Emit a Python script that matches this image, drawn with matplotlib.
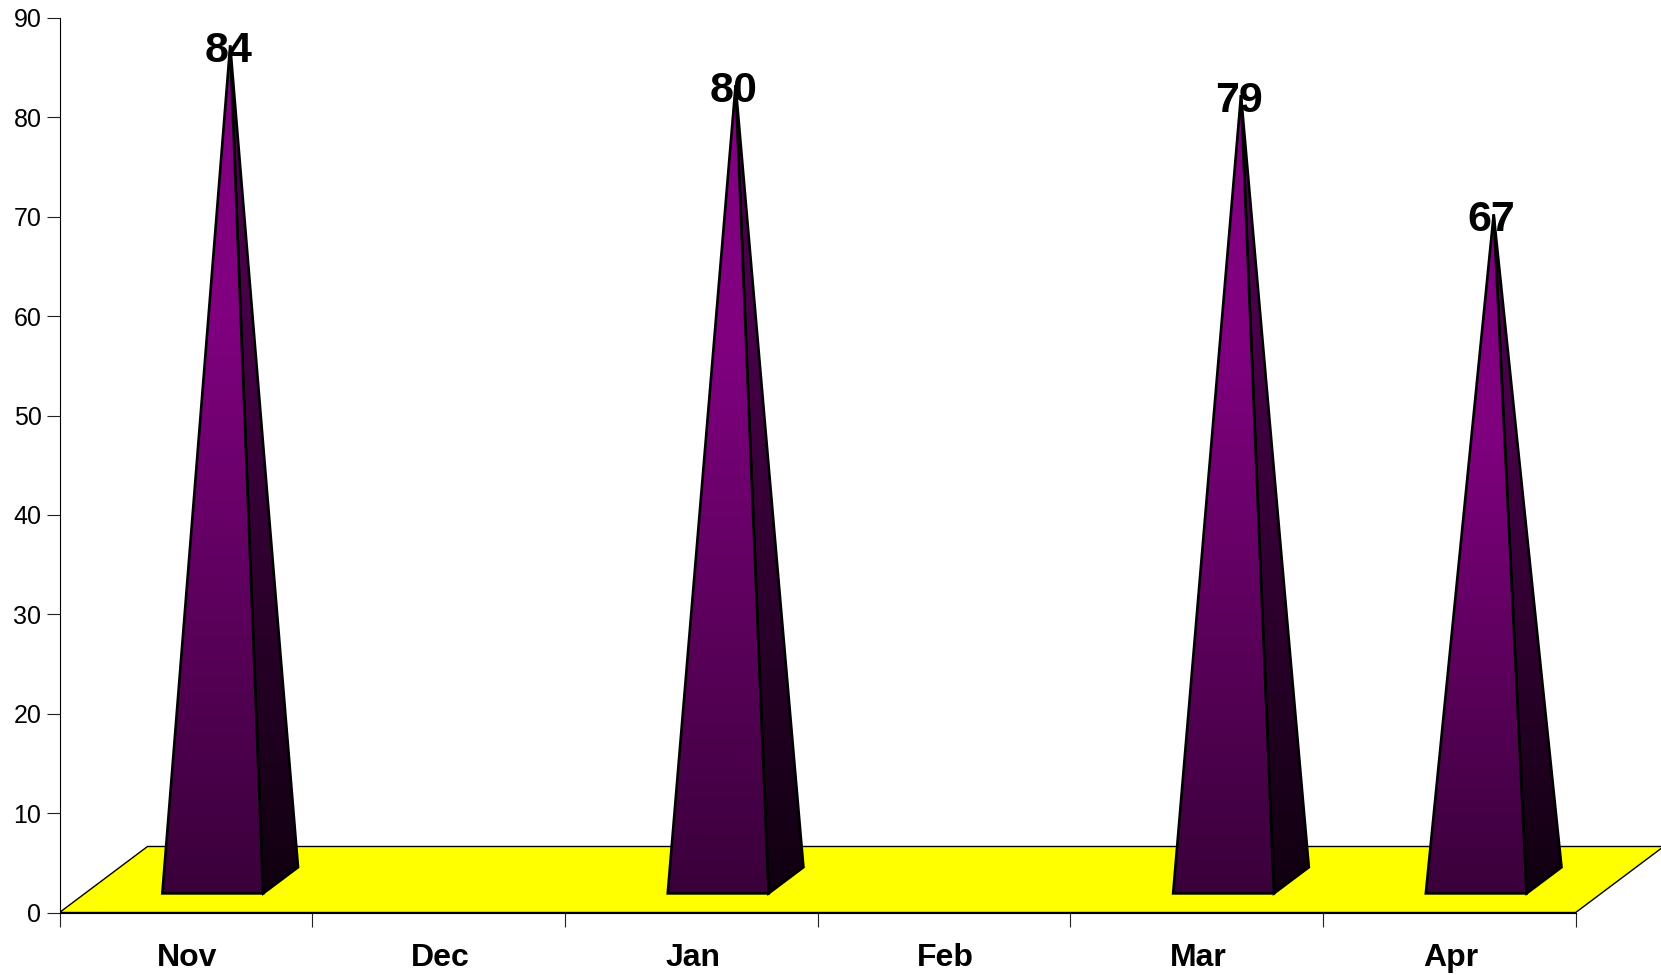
import numpy as np
import matplotlib
matplotlib.use("Agg")
import matplotlib.pyplot as plt
from matplotlib.colors import LinearSegmentedColormap
from matplotlib.patches import Polygon

plt.rcParams["font.family"] = ["Liberation Sans", "DejaVu Sans"]

months = ["Nov", "Dec", "Jan", "Feb", "Mar", "Apr"]
positions = [0, 2, 4, 5]
values = [84, 80, 79, 67]
y_ticks = [0, 10, 20, 30, 40, 50, 60, 70, 80, 90]

W, H = 1661, 975
left, right, bottom, top = 59.5, 1661, 912.5, 18
cat_px = (1575.7 - left) / 6
unit_px = (bottom - top) / 90

# oblique depth of the floor, in data units
depth_x = 88 / cat_px
depth_y = 66 / unit_px


def project(x, d, z=0):
    return x + d * depth_x, z + d * depth_y


fig = plt.figure(figsize=(W / 100, H / 100), dpi=100)
ax = fig.add_axes([left / W, 1 - bottom / H, (right - left) / W, (bottom - top) / H])

front_cmap = LinearSegmentedColormap.from_list("front", [(0, "#3a003a"), (0.68, "#800080"), (1, "#800080")])
side_cmap = LinearSegmentedColormap.from_list("side", [(0, "#100010"), (0.7, "#480048"), (1, "#480048")])
ramp = np.linspace(0, 1, 256).reshape(-1, 1)

# floor
floor = Polygon([project(0, 0), project(6, 0), project(6, 1), project(0, 1)],
                closed=True, fc="#ffff00", ec="black", lw=1, zorder=1)
ax.add_patch(floor)

# pyramids
for pos, val in zip(positions, values):
    xl, xr = pos + 0.306, pos + 0.705
    d0, d1 = 0.29, 0.686
    fl = project(xl, d0)
    fr = project(xr, d0)
    br = project(xr, d1)
    apex = project((xl + xr) / 2, (d0 + d1) / 2, val)

    for pts, cmap, z in [([fr, br, apex], side_cmap, 3), ([fl, fr, apex], front_cmap, 4)]:
        arr = np.array(pts)
        im = ax.imshow(ramp, origin="lower", aspect="auto", cmap=cmap, interpolation="bilinear",
                       extent=[arr[:, 0].min(), arr[:, 0].max(), arr[:, 1].min(), arr[:, 1].max()],
                       zorder=z)
        edge = Polygon(pts, closed=True, fc="none", ec="black", lw=1.9, joinstyle="miter", zorder=z + 0.5)
        ax.add_patch(edge)
        im.set_clip_path(edge)
        edge.set_clip_on(False)

    ax.annotate(str(val), xy=apex, xytext=(-2, -6), textcoords="offset pixels",
                ha="center", va="center", fontsize=31, fontweight="bold", color="black", zorder=2.5)

ax.set_xlim(0, (right - left) / cat_px)
ax.set_ylim(0, 90)

for side in ["top", "right"]:
    ax.spines[side].set_visible(False)
ax.spines["left"].set_linewidth(0.8)
ax.spines["bottom"].set_linewidth(0.8)
ax.spines["bottom"].set_bounds(0, 6)
ax.spines["left"].set_zorder(0.5)

ax.set_yticks(y_ticks)
ax.tick_params(axis="y", length=9.5, width=0.8, labelsize=18, pad=3.5, color="#222222")
ax.set_xticks(range(7))
ax.set_xticklabels([])
ax.set_xticks(np.arange(6) + 0.506, minor=True)
ax.set_xticklabels(months, minor=True, fontsize=23, fontweight="bold")
ax.tick_params(axis="x", which="major", length=10, width=0.8, color="#222222")
ax.tick_params(axis="x", which="minor", length=0, pad=22)

fig.savefig("out.png", dpi=100)
